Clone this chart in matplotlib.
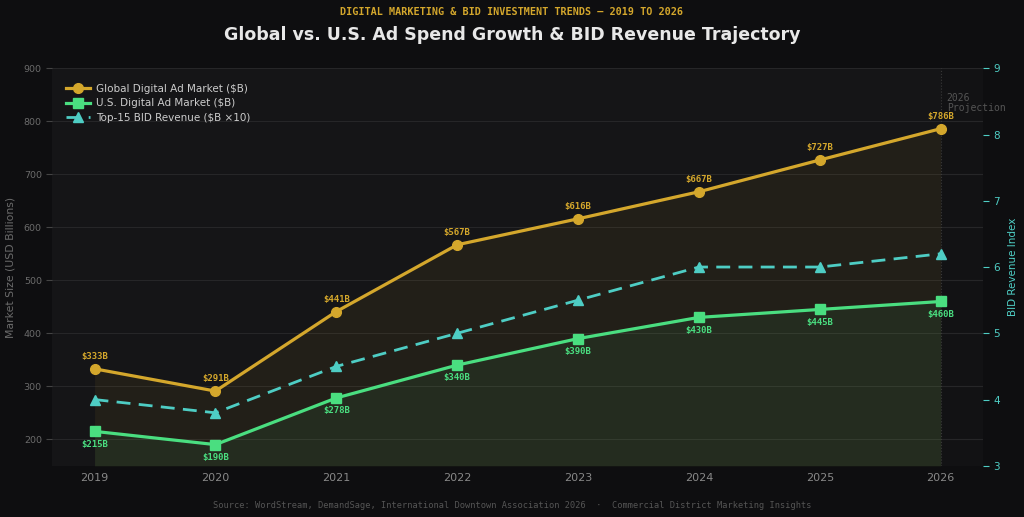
import matplotlib.pyplot as plt
import numpy as np

years = [2019, 2020, 2021, 2022, 2023, 2024, 2025, 2026]
global_ad = [333, 291, 441, 567, 616, 667, 727, 786]
us_ad = [215, 190, 278, 340, 390, 430, 445, 460]
bid_rev = [4.0, 3.8, 4.5, 5.0, 5.5, 6.0, 6.0, 6.2]

GOLD = '#d4a72c'
GREEN = '#4ade80'
TEAL = '#4ecdc4'
BG = '#0e0e10'
AX_BG = '#151517'
GREY = '#6b6b6b'

fig = plt.figure(figsize=(10.24, 5.17), dpi=100, facecolor=BG)
ax = fig.add_axes([0.051, 0.099, 0.909, 0.769])
ax.set_facecolor(AX_BG)

# fills under the lines
ax.fill_between(years, global_ad, 150, color=GOLD, alpha=0.07, lw=0)
ax.fill_between(years, us_ad, 150, color=GREEN, alpha=0.07, lw=0)

l1, = ax.plot(years, global_ad, color=GOLD, lw=2.3, marker='o', ms=7,
              label='Global Digital Ad Market ($B)', zorder=4)
l2, = ax.plot(years, us_ad, color=GREEN, lw=2.3, marker='s', ms=7,
              label='U.S. Digital Ad Market ($B)', zorder=4)

ax.set_xlim(2018.65, 2026.35)
ax.set_ylim(150, 900)
ax.set_xticks(years)
ax.set_yticks(range(200, 901, 100))
ax.tick_params(axis='x', colors='#888888', labelsize=8, length=0, pad=5)
ax.tick_params(axis='y', colors=GREY, labelsize=6.8, color='#444444', length=4)
ax.grid(axis='y', color='#262628', lw=0.8)
ax.set_axisbelow(True)
for s in ax.spines.values():
    s.set_visible(False)
ax.set_ylabel('Market Size (USD Billions)', color=GREY, fontsize=7.8, labelpad=6)

# value labels
for x, y in zip(years, global_ad):
    ax.annotate(f'${y}B', (x, y), xytext=(0, 5.5), textcoords='offset points',
                ha='center', va='bottom', color=GOLD, fontsize=6.5,
                fontweight='bold', family='DejaVu Sans Mono')
for x, y in zip(years, us_ad):
    ax.annotate(f'${y}B', (x, y), xytext=(0, -6), textcoords='offset points',
                ha='center', va='top', color=GREEN, fontsize=6.5,
                fontweight='bold', family='DejaVu Sans Mono')

# projection marker
ax.axvline(2026, color='#3a3a3a', lw=0.8, ls=':', zorder=1)
ax.axvspan(2026, 2026.35, color='#0e0e10', alpha=0.35, lw=0, zorder=0)
ax.text(2026.05, 853, '2026\nProjection', color='#555555', fontsize=7,
        family='DejaVu Sans Mono', va='top', ha='left', linespacing=1.0)

ax2 = ax.twinx()
l3, = ax2.plot(years, bid_rev, color=TEAL, lw=2, ls=(0, (5, 3)), marker='^',
               ms=7, label='Top-15 BID Revenue ($B ×10)', zorder=4)
ax2.set_ylim(3, 9)
ax2.set_yticks(range(3, 10))
ax2.tick_params(axis='y', colors=TEAL, labelsize=7.5, color=TEAL, length=4)
for s in ax2.spines.values():
    s.set_visible(False)
ax2.set_ylabel('BID Revenue Index', color=TEAL, fontsize=7.5, labelpad=6)

leg = ax.legend(handles=[l1, l2, l3], loc='upper left', frameon=False,
                fontsize=7.5, labelcolor='#cccccc', bbox_to_anchor=(0.005, 0.985),
                handlelength=2.3, labelspacing=0.45, handletextpad=0.6)

fig.text(0.5, 0.977, 'DIGITAL MARKETING & BID INVESTMENT TRENDS — 2019 TO 2026',
         ha='center', va='center', color=GOLD, fontsize=7.3, fontweight='bold',
         family='DejaVu Sans Mono')
fig.text(0.5, 0.932, 'Global vs. U.S. Ad Spend Growth & BID Revenue Trajectory',
         ha='center', va='center', color='#e8e8e8', fontsize=12.5, fontweight='bold')
fig.text(0.5, 0.023, 'Source: WordStream, DemandSage, International Downtown Association 2026  ·  '
         'Commercial District Marketing Insights', ha='center', va='center',
         color='#555555', fontsize=6.2, family='DejaVu Sans Mono')

fig.savefig('out.png', dpi=100, facecolor=BG)
